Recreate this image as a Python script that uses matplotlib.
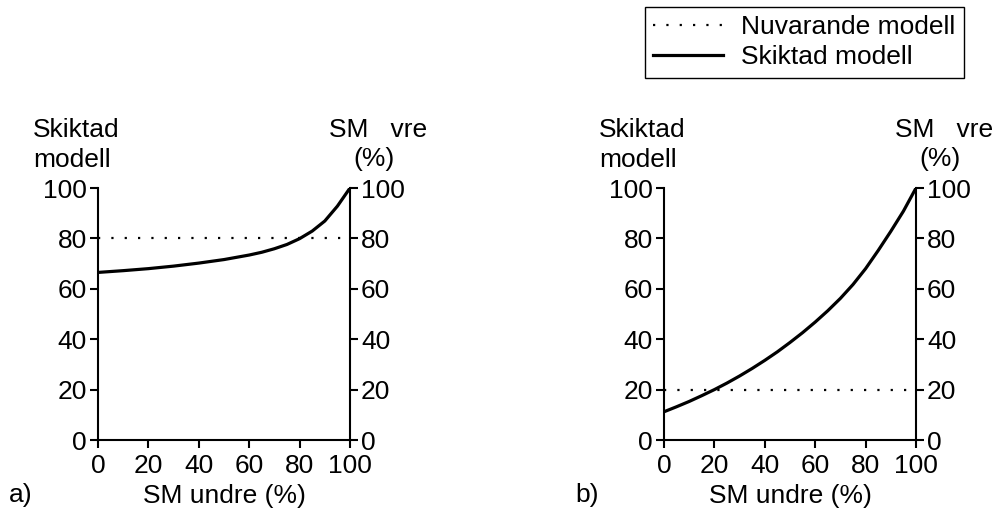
import matplotlib
matplotlib.use('Agg')
import matplotlib.pyplot as plt

plt.rcParams['font.family'] = ['Liberation Sans', 'DejaVu Sans']

# värden
xa = [0, 10, 20, 30, 40, 50, 60, 65, 70, 75, 80, 85, 90, 95, 100]
skiktad_a = [66.5, 67.2, 68.0, 69.0, 70.2, 71.6, 73.4, 74.5, 75.9, 77.6, 79.9, 82.9, 86.9, 92.8, 100]
nuvarande_a = 80

xb = [0, 5, 10, 15, 20, 25, 30, 35, 40, 45, 50, 55, 60, 65, 70, 75, 80, 85, 90, 95, 100]
skiktad_b = [11.2, 13.2, 15.3, 17.6, 20.0, 22.6, 25.4, 28.4, 31.6, 35.0, 38.7, 42.6,
             46.8, 51.3, 56.2, 61.7, 68.0, 75.2, 82.8, 90.8, 100]
nuvarande_b = 20

ticks = [0, 20, 40, 60, 80, 100]
fs = 19

fig = plt.figure(figsize=(9.95, 5.13), dpi=100)
W, H = 995, 513

def panel(left, xs, ys, niva, bokstav):
    ax = fig.add_axes([left / W, 1 - 440 / H, 252 / W, 252 / H])
    ax.plot([0, 100], [niva, niva], color='black', lw=1.6, ls=(0, (1, 5)),
            label='Nuvarande modell')
    ax.plot(xs, ys, color='black', lw=2.3, label='Skiktad modell')
    ax.set_xlim(0, 100)
    ax.set_ylim(0, 100)
    ax.set_xticks(ticks)
    ax.set_yticks(ticks)
    ax.spines['top'].set_visible(False)
    for s in ['left', 'right', 'bottom']:
        ax.spines[s].set_linewidth(1.5)
    ax.tick_params(axis='both', direction='out', length=6, width=1.5, labelsize=fs)
    ax.tick_params(axis='y', right=True, labelright=True, pad=2)
    ax.tick_params(axis='x', pad=4)
    # axeltexter
    fig.text((left - 65) / W, 1 - 137 / H, 'Skiktad', fontsize=fs, ha='left', va='baseline')
    fig.text((left - 65) / W, 1 - 167 / H, 'modell', fontsize=fs, ha='left', va='baseline')
    fig.text((left + 280) / W, 1 - 137 / H, 'SM   vre', fontsize=fs, ha='center', va='baseline')
    fig.text((left + 276) / W, 1 - 166 / H, '(%)', fontsize=fs, ha='center', va='baseline')
    fig.text((left + 126) / W, 1 - 503 / H, 'SM undre (%)', fontsize=fs, ha='center', va='baseline')
    fig.text((left - 89) / W, 1 - 502 / H, bokstav, fontsize=fs, ha='left', va='baseline')
    return ax

ax1 = panel(98, xa, skiktad_a, nuvarande_a, 'a)')
ax2 = panel(664, xb, skiktad_b, nuvarande_b, 'b)')

h, l = ax1.get_legend_handles_labels()
leg = fig.legend(h, l, loc='upper left', bbox_to_anchor=(645 / W, 1 - 7 / H),
                 fontsize=fs, frameon=True, fancybox=False, edgecolor='black',
                 framealpha=1, borderaxespad=0, handlelength=2.65, handletextpad=0.68,
                 borderpad=0.32, labelspacing=0.22)
leg.get_frame().set_linewidth(1.0)

fig.savefig('out.png', dpi=100)
